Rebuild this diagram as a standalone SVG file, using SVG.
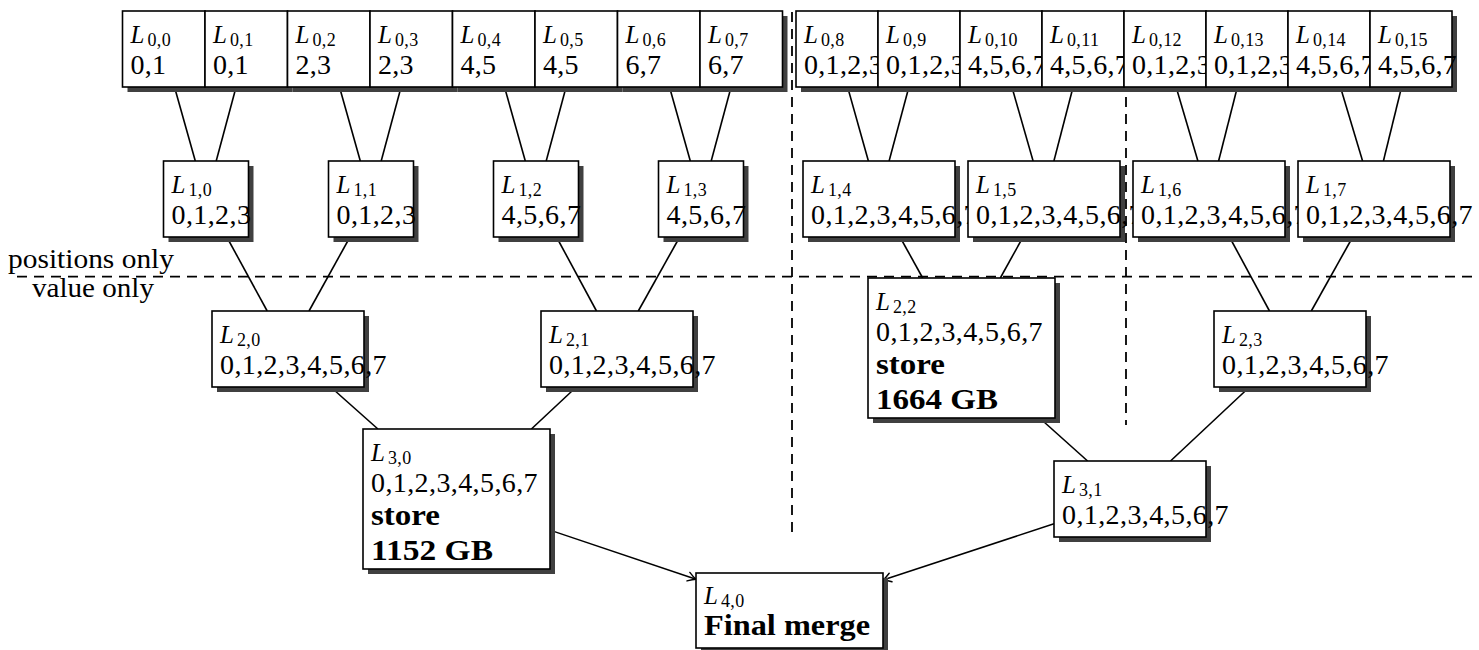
<svg xmlns="http://www.w3.org/2000/svg" width="1479" height="650" viewBox="0 0 1479 650">
  <defs>
    <style>
      .bx { fill: #ffffff; stroke: #000000; stroke-width: 1.6; }
      .sh { fill: #404040; stroke: none; }
      .lnk { fill: none; stroke: #000000; stroke-width: 1.6; }
      .arr { fill: none; stroke: #000000; stroke-width: 1.5; marker-end: url(#tip); }
      .dash { fill: none; stroke: #000000; stroke-width: 1.8; stroke-dasharray: 10 7; }
      text { font-family: "Liberation Serif", "Times New Roman", serif; fill: #000000; }
      .lab { font-size: 25px; font-style: italic; }
      .sub { font-size: 18px; font-style: normal; letter-spacing: 0.4px; }
      .n0 { font-size: 28px; letter-spacing: 0.3px; }
      .num { font-size: 28px; letter-spacing: 0.4px; }
      .bold { font-size: 29px; font-weight: bold; }
      .side { font-size: 28px; }
    </style>
    <marker id="tip" markerUnits="userSpaceOnUse" markerWidth="14" markerHeight="14" viewBox="-10 -7 12 14" refX="0" refY="0" orient="auto">
      <path d="M -8 -4.5 Q -3 -1 0 0 Q -3 1 -8 4.5" fill="none" stroke="#000000" stroke-width="1.4" stroke-linecap="round"/>
    </marker>
  </defs>

  <!-- partition lines -->
  <g id="partitions">
    <path class="dash" d="M 17 276.7 H 1479"/>
    <path class="dash" d="M 792 12 V 538"/>
    <path class="dash" d="M 1126 12 V 425"/>
    <text class="side" x="91" y="268" text-anchor="middle" textLength="166" lengthAdjust="spacingAndGlyphs">positions only</text>
    <text class="side" x="93" y="297" text-anchor="middle" textLength="122" lengthAdjust="spacingAndGlyphs">value only</text>
  </g>

  <!-- tree edges -->
  <g id="connectors">
    <path class="lnk" d="M 174.5 87 L 195.3 161"/>
    <path class="lnk" d="M 236.1 87 L 216.2 161"/>
    <path class="lnk" d="M 339.5 87 L 360.3 161"/>
    <path class="lnk" d="M 401.1 87 L 381.2 161"/>
    <path class="lnk" d="M 504.5 87 L 525.3 161"/>
    <path class="lnk" d="M 566.1 87 L 546.2 161"/>
    <path class="lnk" d="M 669.5 87 L 690.3 161"/>
    <path class="lnk" d="M 731.1 87 L 711.2 161"/>
    <path class="lnk" d="M 847.6 87 L 868.4 161"/>
    <path class="lnk" d="M 908.9 87 L 889.1 161"/>
    <path class="lnk" d="M 1011.9 87 L 1033.1 161"/>
    <path class="lnk" d="M 1073.1 87 L 1053.9 161"/>
    <path class="lnk" d="M 1176.1 87 L 1197.9 161"/>
    <path class="lnk" d="M 1237.4 87 L 1218.6 161"/>
    <path class="lnk" d="M 1340.4 87 L 1362.6 161"/>
    <path class="lnk" d="M 1401.6 87 L 1383.4 161"/>

    <path class="lnk" d="M 226.8 237 L 267.2 311"/>
    <path class="lnk" d="M 350.0 237 L 309.0 311"/>
    <path class="lnk" d="M 556.5 237 L 596.5 311"/>
    <path class="lnk" d="M 679.7 237 L 638.3 311"/>
    <path class="lnk" d="M 900.0 237 L 922.7 278"/>
    <path class="lnk" d="M 1023.0 237 L 1000.3 278"/>
    <path class="lnk" d="M 1229.5 237 L 1269.5 311"/>
    <path class="lnk" d="M 1352.7 237 L 1311.3 311"/>

    <path class="lnk" d="M 330.7 387 L 377.9 429"/>
    <path class="lnk" d="M 576.3 387 L 531.4 429"/>
    <path class="lnk" d="M 1039.6 418 L 1087.6 461"/>
    <path class="lnk" d="M 1249.5 387 L 1170.5 461"/>

    <path class="arr" d="M 550 530.1 L 696 579.2"/>
    <path class="arr" d="M 1054 523.8 L 883 580"/>
  </g>

  <!-- level 0 -->
  <g id="L0_0"><rect class="sh" x="127.5" y="16" width="82.5" height="76"/><rect class="bx" x="122.5" y="11" width="82.5" height="76"/>
    <text class="lab" x="130.5" y="43">L<tspan class="sub" dx="3" dy="3">0,0</tspan></text><text class="n0" x="130.5" y="74">0,1</text></g>
  <g id="L0_1"><rect class="sh" x="210" y="16" width="82.5" height="76"/><rect class="bx" x="205" y="11" width="82.5" height="76"/>
    <text class="lab" x="213" y="43">L<tspan class="sub" dx="3" dy="3">0,1</tspan></text><text class="n0" x="213" y="74">0,1</text></g>
  <g id="L0_2"><rect class="sh" x="292.5" y="16" width="82.5" height="76"/><rect class="bx" x="287.5" y="11" width="82.5" height="76"/>
    <text class="lab" x="295.5" y="43">L<tspan class="sub" dx="3" dy="3">0,2</tspan></text><text class="n0" x="295.5" y="74">2,3</text></g>
  <g id="L0_3"><rect class="sh" x="375" y="16" width="82.5" height="76"/><rect class="bx" x="370" y="11" width="82.5" height="76"/>
    <text class="lab" x="378" y="43">L<tspan class="sub" dx="3" dy="3">0,3</tspan></text><text class="n0" x="378" y="74">2,3</text></g>
  <g id="L0_4"><rect class="sh" x="457.5" y="16" width="82.5" height="76"/><rect class="bx" x="452.5" y="11" width="82.5" height="76"/>
    <text class="lab" x="460.5" y="43">L<tspan class="sub" dx="3" dy="3">0,4</tspan></text><text class="n0" x="460.5" y="74">4,5</text></g>
  <g id="L0_5"><rect class="sh" x="540" y="16" width="82.5" height="76"/><rect class="bx" x="535" y="11" width="82.5" height="76"/>
    <text class="lab" x="543" y="43">L<tspan class="sub" dx="3" dy="3">0,5</tspan></text><text class="n0" x="543" y="74">4,5</text></g>
  <g id="L0_6"><rect class="sh" x="622.5" y="16" width="82.5" height="76"/><rect class="bx" x="617.5" y="11" width="82.5" height="76"/>
    <text class="lab" x="625.5" y="43">L<tspan class="sub" dx="3" dy="3">0,6</tspan></text><text class="n0" x="625.5" y="74">6,7</text></g>
  <g id="L0_7"><rect class="sh" x="705" y="16" width="82.5" height="76"/><rect class="bx" x="700" y="11" width="82.5" height="76"/>
    <text class="lab" x="708" y="43">L<tspan class="sub" dx="3" dy="3">0,7</tspan></text><text class="n0" x="708" y="74">6,7</text></g>

  <g id="L0_8"><rect class="sh" x="801" y="16" width="82" height="76"/><rect class="bx" x="796" y="11" width="82" height="76"/>
    <text class="lab" x="804" y="43">L<tspan class="sub" dx="3" dy="3">0,8</tspan></text><text class="n0" x="804" y="74">0,1,2,3</text></g>
  <g id="L0_9"><rect class="sh" x="883" y="16" width="82" height="76"/><rect class="bx" x="878" y="11" width="82" height="76"/>
    <text class="lab" x="886" y="43">L<tspan class="sub" dx="3" dy="3">0,9</tspan></text><text class="n0" x="886" y="74">0,1,2,3</text></g>
  <g id="L0_10"><rect class="sh" x="965" y="16" width="82" height="76"/><rect class="bx" x="960" y="11" width="82" height="76"/>
    <text class="lab" x="968" y="43">L<tspan class="sub" dx="3" dy="3">0,10</tspan></text><text class="n0" x="968" y="74">4,5,6,7</text></g>
  <g id="L0_11"><rect class="sh" x="1047" y="16" width="82" height="76"/><rect class="bx" x="1042" y="11" width="82" height="76"/>
    <text class="lab" x="1050" y="43">L<tspan class="sub" dx="3" dy="3">0,11</tspan></text><text class="n0" x="1050" y="74">4,5,6,7</text></g>
  <g id="L0_12"><rect class="sh" x="1129" y="16" width="82" height="76"/><rect class="bx" x="1124" y="11" width="82" height="76"/>
    <text class="lab" x="1132" y="43">L<tspan class="sub" dx="3" dy="3">0,12</tspan></text><text class="n0" x="1132" y="74">0,1,2,3</text></g>
  <g id="L0_13"><rect class="sh" x="1211" y="16" width="82" height="76"/><rect class="bx" x="1206" y="11" width="82" height="76"/>
    <text class="lab" x="1214" y="43">L<tspan class="sub" dx="3" dy="3">0,13</tspan></text><text class="n0" x="1214" y="74">0,1,2,3</text></g>
  <g id="L0_14"><rect class="sh" x="1293" y="16" width="82" height="76"/><rect class="bx" x="1288" y="11" width="82" height="76"/>
    <text class="lab" x="1296" y="43">L<tspan class="sub" dx="3" dy="3">0,14</tspan></text><text class="n0" x="1296" y="74">4,5,6,7</text></g>
  <g id="L0_15"><rect class="sh" x="1375" y="16" width="82" height="76"/><rect class="bx" x="1370" y="11" width="82" height="76"/>
    <text class="lab" x="1378" y="43">L<tspan class="sub" dx="3" dy="3">0,15</tspan></text><text class="n0" x="1378" y="74">4,5,6,7</text></g>

  <!-- level 1 -->
  <g id="L1_0"><rect class="sh" x="168.5" y="166" width="85" height="76"/><rect class="bx" x="163.5" y="161" width="85" height="76"/>
    <text class="lab" x="171.5" y="193">L<tspan class="sub" dx="3" dy="3">1,0</tspan></text><text class="num" x="171.5" y="224">0,1,2,3</text></g>
  <g id="L1_1"><rect class="sh" x="333.5" y="166" width="85" height="76"/><rect class="bx" x="328.5" y="161" width="85" height="76"/>
    <text class="lab" x="336.5" y="193">L<tspan class="sub" dx="3" dy="3">1,1</tspan></text><text class="num" x="336.5" y="224">0,1,2,3</text></g>
  <g id="L1_2"><rect class="sh" x="498.5" y="166" width="85" height="76"/><rect class="bx" x="493.5" y="161" width="85" height="76"/>
    <text class="lab" x="501.5" y="193">L<tspan class="sub" dx="3" dy="3">1,2</tspan></text><text class="num" x="501.5" y="224">4,5,6,7</text></g>
  <g id="L1_3"><rect class="sh" x="663.5" y="166" width="85" height="76"/><rect class="bx" x="658.5" y="161" width="85" height="76"/>
    <text class="lab" x="666.5" y="193">L<tspan class="sub" dx="3" dy="3">1,3</tspan></text><text class="num" x="666.5" y="224">4,5,6,7</text></g>
  <g id="L1_4"><rect class="sh" x="808" y="166" width="152" height="76"/><rect class="bx" x="803" y="161" width="152" height="76"/>
    <text class="lab" x="811" y="193">L<tspan class="sub" dx="3" dy="3">1,4</tspan></text><text class="num" x="811" y="224">0,1,2,3,4,5,6,7</text></g>
  <g id="L1_5"><rect class="sh" x="973" y="166" width="152" height="76"/><rect class="bx" x="968" y="161" width="152" height="76"/>
    <text class="lab" x="976" y="193">L<tspan class="sub" dx="3" dy="3">1,5</tspan></text><text class="num" x="976" y="224">0,1,2,3,4,5,6,7</text></g>
  <g id="L1_6"><rect class="sh" x="1138" y="166" width="152" height="76"/><rect class="bx" x="1133" y="161" width="152" height="76"/>
    <text class="lab" x="1141" y="193">L<tspan class="sub" dx="3" dy="3">1,6</tspan></text><text class="num" x="1141" y="224">0,1,2,3,4,5,6,7</text></g>
  <g id="L1_7"><rect class="sh" x="1303" y="166" width="152" height="76"/><rect class="bx" x="1298" y="161" width="152" height="76"/>
    <text class="lab" x="1306" y="193">L<tspan class="sub" dx="3" dy="3">1,7</tspan></text><text class="num" x="1306" y="224">0,1,2,3,4,5,6,7</text></g>

  <!-- level 2 -->
  <g id="L2_0"><rect class="sh" x="217" y="316" width="152" height="76"/><rect class="bx" x="212" y="311" width="152" height="76"/>
    <text class="lab" x="220" y="343">L<tspan class="sub" dx="3" dy="3">2,0</tspan></text><text class="num" x="220" y="374">0,1,2,3,4,5,6,7</text></g>
  <g id="L2_1"><rect class="sh" x="546" y="316" width="152" height="76"/><rect class="bx" x="541" y="311" width="152" height="76"/>
    <text class="lab" x="549" y="343">L<tspan class="sub" dx="3" dy="3">2,1</tspan></text><text class="num" x="549" y="374">0,1,2,3,4,5,6,7</text></g>
  <g id="L2_2"><rect class="sh" x="873" y="283" width="187" height="140"/><rect class="bx" x="868" y="278" width="187" height="140"/>
    <text class="lab" x="876" y="310">L<tspan class="sub" dx="3" dy="3">2,2</tspan></text><text class="num" x="876" y="341">0,1,2,3,4,5,6,7</text>
    <text class="bold" x="876" y="374" textLength="69" lengthAdjust="spacingAndGlyphs">store</text>
    <text class="bold" x="876" y="409" textLength="122" lengthAdjust="spacingAndGlyphs">1664 GB</text></g>
  <g id="L2_3"><rect class="sh" x="1219" y="316" width="152" height="76"/><rect class="bx" x="1214" y="311" width="152" height="76"/>
    <text class="lab" x="1222" y="343">L<tspan class="sub" dx="3" dy="3">2,3</tspan></text><text class="num" x="1222" y="374">0,1,2,3,4,5,6,7</text></g>

  <!-- level 3 -->
  <g id="L3_0"><rect class="sh" x="368" y="434" width="187" height="140"/><rect class="bx" x="363" y="429" width="187" height="140"/>
    <text class="lab" x="371" y="461">L<tspan class="sub" dx="3" dy="3">3,0</tspan></text><text class="num" x="371" y="492">0,1,2,3,4,5,6,7</text>
    <text class="bold" x="371" y="525" textLength="69" lengthAdjust="spacingAndGlyphs">store</text>
    <text class="bold" x="371" y="560" textLength="122" lengthAdjust="spacingAndGlyphs">1152 GB</text></g>
  <g id="L3_1"><rect class="sh" x="1059" y="466" width="152" height="76"/><rect class="bx" x="1054" y="461" width="152" height="76"/>
    <text class="lab" x="1062" y="493">L<tspan class="sub" dx="3" dy="3">3,1</tspan></text><text class="num" x="1062" y="524">0,1,2,3,4,5,6,7</text></g>

  <!-- level 4 -->
  <g id="L4_0"><rect class="sh" x="701" y="578" width="187" height="75"/><rect class="bx" x="696" y="573" width="187" height="75"/>
    <text class="lab" x="704" y="604">L<tspan class="sub" dx="3" dy="3">4,0</tspan></text>
    <text class="bold" x="704" y="635" textLength="166" lengthAdjust="spacingAndGlyphs">Final merge</text></g>
</svg>
